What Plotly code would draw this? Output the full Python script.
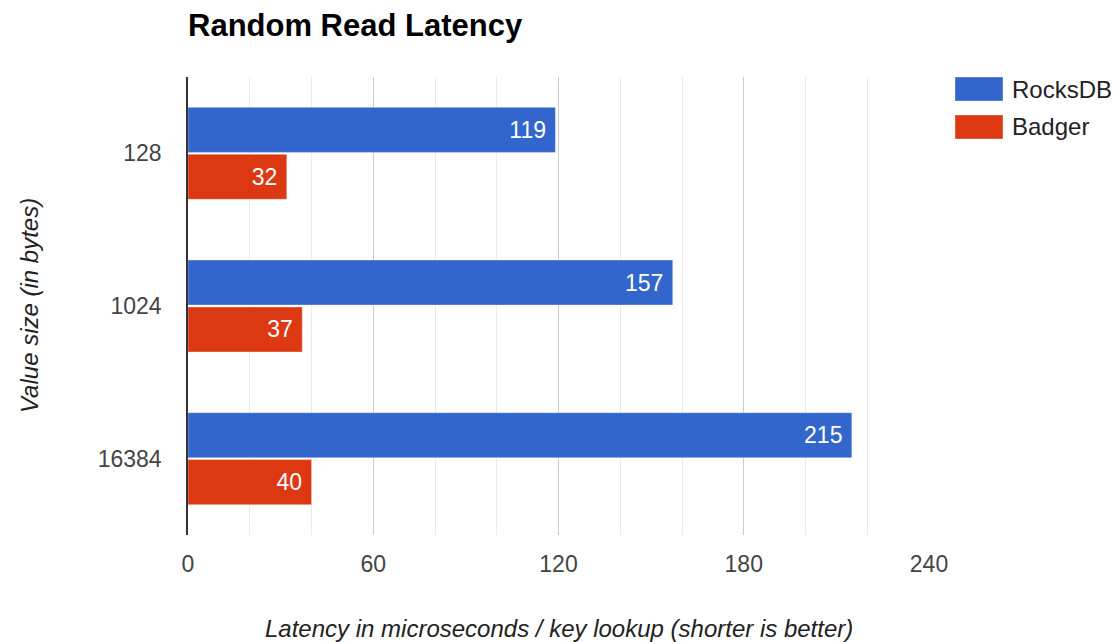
import plotly.graph_objects as go

categories = ["128", "1024", "16384"]
rocksdb = [119, 157, 215]
badger = [32, 37, 40]
series_names = ["RocksDB", "Badger"]
colors = ["#3366CC", "#DC3912"]
x_ticks = [0, 60, 120, 180, 240]

FONT = "Liberation Sans, Arial"
fig = go.Figure()
for name, vals, col in zip(series_names, [rocksdb, badger], colors):
    fig.add_trace(go.Bar(
        y=categories, x=vals, name=name, orientation="h",
        marker=dict(color=col, line=dict(color="rgba(255,255,255,0.35)", width=1)),
        text=[str(v) for v in vals], texttemplate="%{text}\u00a0",
        textposition="inside", insidetextanchor="end",
        textfont=dict(color="white", size=23, family=FONT),
        showlegend=False,
    ))

W, H = 1115, 642
L, R, T, B = 188, 186, 77, 107
fig.update_layout(
    width=W, height=H,
    margin=dict(l=L, r=R, t=T, b=B, pad=0, autoexpand=False),
    paper_bgcolor="white", plot_bgcolor="white",
    barmode="group", bargap=0.385, bargroupgap=0.04,
    font=dict(family=FONT, color="#333333", size=23),
    title=dict(text="<b>Random Read Latency</b>", x=L / W, xanchor="left", xref="container",
               y=1 - 25 / H, yanchor="middle", yref="container",
               font=dict(size=31, color="#000000", family=FONT)),
    xaxis=dict(range=[0, 240], tickvals=x_ticks, showgrid=True, gridcolor="#cccccc", gridwidth=1,
               minor=dict(dtick=20, tick0=0, showgrid=True, gridcolor="#ebebeb", gridwidth=1),
               zeroline=False, showline=False, ticks="", ticklabelstandoff=13, automargin=False,
               tickfont=dict(size=23, color="#444444")),
    yaxis=dict(autorange="reversed", type="category", showline=True, linecolor="#333333", linewidth=1.5,
               showgrid=False, ticks="", ticklabelstandoff=20, automargin=False,
               tickfont=dict(size=23, color="#444444")),
)

# axis titles
fig.add_annotation(xref="paper", yref="paper", x=0.5, y=0, yshift=-93, showarrow=False,
                   xanchor="center", yanchor="middle",
                   text="<i>Latency in microseconds / key lookup (shorter is better)</i>",
                   font=dict(size=24, color="#222222"))
fig.add_annotation(xref="paper", yref="paper", x=0, y=0.5, xshift=-(L - 29), showarrow=False,
                   xanchor="center", yanchor="middle", textangle=-90,
                   text="<i>Value size (in bytes)</i>",
                   font=dict(size=24, color="#222222"))

# custom legend
leg_x0 = (955 - L) / (W - L - R)
leg_x1 = (1003 - L) / (W - L - R)
ph = H - T - B
for i, (name, col) in enumerate(zip(series_names, colors)):
    y_top = 77 + i * 38
    y0 = 1 - (y_top - T) / ph
    y1 = 1 - (y_top + 24 - T) / ph
    fig.add_shape(type="rect", xref="paper", yref="paper", x0=leg_x0, x1=leg_x1, y0=y1, y1=y0,
                  fillcolor=col, line=dict(color="rgba(255,255,255,0.35)", width=1))
    fig.add_annotation(xref="paper", yref="paper", x=(1010 - L) / (W - L - R), y=(y0 + y1) / 2,
                       text=name, showarrow=False, xanchor="left", yanchor="middle",
                       font=dict(size=24, color="#222222"))

fig.write_html("out.html")
